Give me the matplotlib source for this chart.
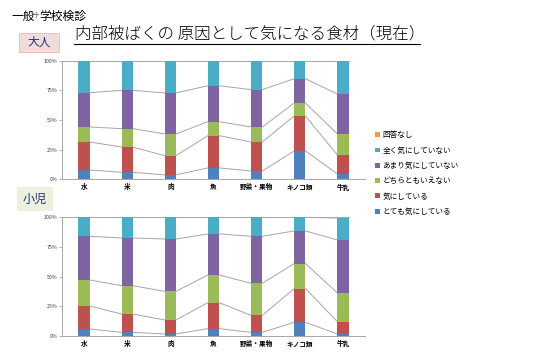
import matplotlib
matplotlib.use("Agg")
import matplotlib.pyplot as plt
from matplotlib.patches import Patch, Rectangle
from matplotlib.lines import Line2D
import numpy as np

plt.rcParams["font.family"] = ["Noto Sans CJK JP", "DejaVu Sans"]

categories = ["水", "米", "肉", "魚", "野菜・果物", "キノコ類", "牛乳"]
series_names = ["とても気にしている", "気にしている", "どちらともいえない",
                "あまり気にしていない", "全く気にしていない", "回答なし"]
colors = ["#4F81BD", "#C0504D", "#9BBB59", "#8064A2", "#4BACC6", "#F79646"]

# adults (%)
adult_very     = [7.9, 5.9, 3.7, 9.6, 7.0, 23.9, 4.5]
adult_some     = [23.6, 21.3, 16.2, 27.2, 24.5, 29.5, 16.0]
adult_neutral  = [12.6, 15.5, 18.3, 11.8, 12.6, 10.9, 17.7]
adult_little   = [28.9, 32.3, 34.6, 30.3, 31.5, 20.5, 33.7]
adult_none     = [26.4, 24.4, 26.6, 20.5, 23.8, 15.2, 27.5]
adult_noanswer = [0.6, 0.6, 0.6, 0.6, 0.6, 0.0, 0.6]

# children (%)
child_very     = [5.9, 3.1, 1.7, 6.2, 3.1, 11.5, 1.7]
child_some     = [19.4, 15.4, 11.8, 21.9, 14.3, 28.4, 10.4]
child_neutral  = [21.9, 23.9, 24.1, 23.3, 27.0, 21.1, 24.1]
child_little   = [36.8, 40.2, 44.1, 34.6, 39.6, 27.5, 44.7]
child_none     = [16.0, 17.4, 18.3, 14.0, 16.0, 11.5, 18.5]
child_noanswer = [0.0, 0.0, 0.0, 0.0, 0.0, 0.0, 0.6]

adult = [adult_very, adult_some, adult_neutral, adult_little, adult_none, adult_noanswer]
child = [child_very, child_some, child_neutral, child_little, child_none, child_noanswer]

W, H = 533, 360
fig = plt.figure(figsize=(W / 100, H / 100), dpi=100)
fig.patch.set_facecolor("white")

BW = 0.26
x = np.arange(len(categories))


def draw_stack(ax, data):
    vals = np.array(data, dtype=float)
    vals = vals / vals.sum(axis=0) * 100
    bottom = np.zeros(len(categories))
    for k in range(len(vals)):
        ax.bar(x, vals[k], BW, bottom=bottom, color=colors[k], linewidth=0, zorder=3)
        bottom = bottom + vals[k]
        # series lines between bars
        if k < len(vals) - 1:
            for i in range(len(categories) - 1):
                ax.plot([x[i] + BW / 2, x[i + 1] - BW / 2], [bottom[i], bottom[i + 1]],
                        color="#A6A6A6", lw=0.7, zorder=2)
    ax.plot([-0.5, x[-1] + BW / 2], [100, 100], color="#A6A6A6", lw=0.7, zorder=2)
    ax.set_xlim(-0.5, len(categories) - 0.5)
    ax.set_ylim(0, 100)
    ax.set_yticks([0, 25, 50, 75, 100])
    ax.set_yticklabels(["0%", "25%", "50%", "75%", "100%"], fontsize=3.8, color="#404040")
    ax.set_xticks(x)
    ax.set_xticklabels(categories, fontsize=4.8, fontweight="bold")
    ax.tick_params(axis="x", length=0, pad=3)
    ax.tick_params(axis="y", length=2, width=0.6, color="#A6A6A6", pad=1.5)
    for s in ["top", "right"]:
        ax.spines[s].set_visible(False)
    for s in ["left", "bottom"]:
        ax.spines[s].set_color("#A6A6A6")
        ax.spines[s].set_linewidth(0.7)


def box(x0, y0, x1, y1):
    return [x0 / W, 1 - y1 / H, (x1 - x0) / W, (y1 - y0) / H]


ax1 = fig.add_axes(box(62.4, 60.7, 364.6, 179.3))
ax2 = fig.add_axes(box(62.4, 217.3, 364.6, 336.0))
draw_stack(ax1, adult)
draw_stack(ax2, child)

# header texts
fig.text(11 / W, 1 - 16 / H, "一般", fontsize=8.5, va="center", ha="left")
fig.text(33 / W, 1 - 16 / H, "+", fontsize=8.5, va="center", ha="left", color="#4CA64C")
fig.text(39 / W, 1 - 16 / H, "学校検診", fontsize=8.5, va="center", ha="left")

fig.text(75 / W, 1 - 34 / H, "内部被ばくの 原因として気になる食材（現在）",
         fontsize=11.9, va="center", ha="left", fontweight="light")
fig.add_artist(Line2D([74 / W, 420 / W], [1 - 44 / H, 1 - 44 / H], color="black", lw=0.8))

fig.add_artist(Rectangle((19 / W, 1 - 52 / H), 40 / W, 19 / H, transform=fig.transFigure,
                         facecolor="#F2DCDB", edgecolor="#E6B9B8", lw=0.6))
fig.text(39 / W, 1 - 42.5 / H, "大人", fontsize=8.5, va="center", ha="center", color="#1F3864")

fig.add_artist(Rectangle((17 / W, 1 - 211 / H), 36 / W, 24 / H, transform=fig.transFigure,
                         facecolor="#EBF1DE", edgecolor="none"))
fig.text(35 / W, 1 - 199 / H, "小児", fontsize=8.7, va="center", ha="center", color="#1F3864")

# legend
handles = [Patch(facecolor=colors[k], edgecolor="none", label=series_names[k])
           for k in range(len(series_names))][::-1]
fig.legend(handles=handles, loc="upper left", bbox_to_anchor=(375 / W, 1 - 131.5 / H),
           frameon=False, fontsize=5.5, handlelength=0.6, handleheight=0.6,
           handletextpad=0.4, labelspacing=0.95, borderpad=0, borderaxespad=0)

fig.savefig("out.png", dpi=100)
